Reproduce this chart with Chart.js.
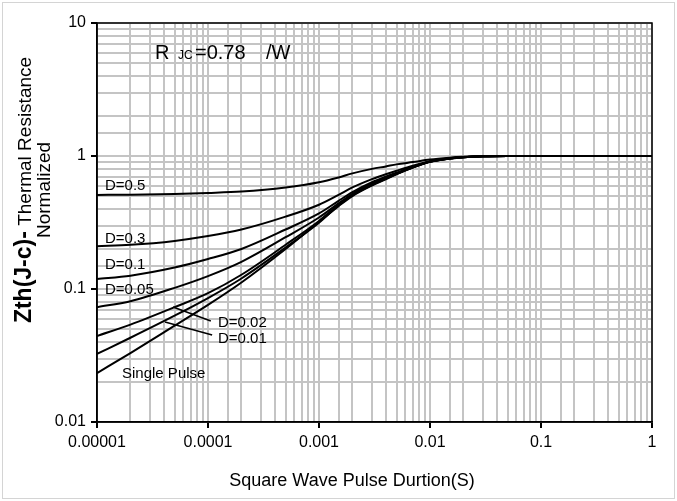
<!DOCTYPE html>
<html>
<head>
<meta charset="utf-8">
<script src="https://cdn.jsdelivr.net/npm/chart.js@4.4.1/dist/chart.umd.min.js"></script>
<style>
  html, body { margin: 0; padding: 0; background: #fff; }
  #wrap { width: 677px; height: 501px; position: relative; }
  canvas { display: block; }
</style>
</head>
<body>
<div id="wrap"><canvas id="c" width="677" height="501"></canvas></div>
<script>
// Pulse durations (s)
const pulseTimes = [1e-5, 2e-5, 5e-5, 1e-4, 2e-4, 5e-4, 1e-3, 1.5e-3, 2e-3, 3e-3, 4e-3, 5e-3, 7e-3, 1e-2, 1.5e-2, 2e-2, 3e-2, 5e-2, 1e-1, 1];

// Normalized thermal impedance per duty cycle
const zD05   = [0.51, 0.512, 0.518, 0.527, 0.54, 0.58, 0.635, 0.69, 0.74, 0.80, 0.835, 0.865, 0.90, 0.94, 0.97, 0.985, 0.995, 1.0, 1.0, 1.0];
const zD03   = [0.21, 0.215, 0.23, 0.25, 0.28, 0.35, 0.43, 0.51, 0.58, 0.67, 0.73, 0.775, 0.845, 0.915, 0.963, 0.982, 0.995, 1.0, 1.0, 1.0];
const zD01   = [0.119, 0.126, 0.145, 0.168, 0.20, 0.28, 0.37, 0.46, 0.535, 0.635, 0.70, 0.75, 0.83, 0.91, 0.96, 0.98, 0.995, 1.0, 1.0, 1.0];
const zD005  = [0.073, 0.081, 0.102, 0.125, 0.16, 0.245, 0.345, 0.44, 0.52, 0.62, 0.69, 0.74, 0.825, 0.907, 0.958, 0.98, 0.995, 1.0, 1.0, 1.0];
const zD002  = [0.0443, 0.054, 0.073, 0.093, 0.128, 0.215, 0.325, 0.43, 0.51, 0.61, 0.68, 0.735, 0.822, 0.905, 0.957, 0.98, 0.995, 1.0, 1.0, 1.0];
const zD001  = [0.0325, 0.043, 0.063, 0.0855, 0.12, 0.205, 0.315, 0.425, 0.505, 0.605, 0.675, 0.732, 0.82, 0.904, 0.956, 0.98, 0.995, 1.0, 1.0, 1.0];
const zSingle= [0.0233, 0.033, 0.053, 0.076, 0.112, 0.20, 0.32, 0.42, 0.50, 0.60, 0.668, 0.73, 0.818, 0.903, 0.955, 0.98, 0.995, 1.0, 1.0, 1.0];

// Axis tick labels (major decades)
const xMajorTicks = [0.00001, 0.0001, 0.001, 0.01, 0.1, 1];
const xTickLabels = ["0.00001", "0.0001", "0.001", "0.01", "0.1", "1"];
const yMajorTicks = [0.01, 0.1, 1, 10];
const yTickLabels = ["0.01", "0.1", "1", "10"];

// Curve labels (text, anchor x, anchor y in data units)
const curveLabels = [
  ["D=0.5", 1.18e-5, 0.595],
  ["D=0.3", 1.18e-5, 0.238],
  ["D=0.1", 1.18e-5, 0.1515],
  ["D=0.05", 1.18e-5, 0.0989],
  ["D=0.02", 1.23e-4, 0.0555],
  ["D=0.01", 1.23e-4, 0.042],
  ["Single Pulse", 1.68e-5, 0.023]
];
// Leader lines (x1, y1, x2, y2 in data units)
const leaders = [
  [1.06e-4, 0.0574, 4.84e-5, 0.0733],
  [1.09e-4, 0.0451, 4.1e-5, 0.0565]
];

const seriesList = [zD05, zD03, zD01, zD005, zD002, zD001, zSingle];
const seriesNames = ["D=0.5", "D=0.3", "D=0.1", "D=0.05", "D=0.02", "D=0.01", "Single Pulse"];

const datasets = seriesList.map((arr, i) => ({
  label: seriesNames[i],
  data: pulseTimes.map((t, j) => ({ x: t, y: arr[j] })),
  borderColor: '#000',
  borderWidth: 2,
  pointRadius: 0,
  fill: false,
  cubicInterpolationMode: 'monotone'
}));

function isMajor(v, list) {
  return list.some(m => Math.abs(v / m - 1) < 1e-6);
}
function labelFor(v, list, labels) {
  for (let i = 0; i < list.length; i++) if (Math.abs(v / list[i] - 1) < 1e-6) return labels[i];
  return '';
}

const FONT = '"Liberation Sans", Arial, sans-serif';

const overlay = {
  id: 'overlay',
  beforeDraw(chart) {
    const ctx = chart.ctx;
    ctx.save();
    ctx.fillStyle = '#fff';
    ctx.fillRect(0, 0, chart.width, chart.height);
    ctx.strokeStyle = '#d4d4d4';
    ctx.lineWidth = 1;
    ctx.strokeRect(2.5, 2.5, chart.width - 5, chart.height - 5);
    ctx.restore();
  },
  afterDraw(chart) {
    const ctx = chart.ctx;
    const a = chart.chartArea;
    const xs = chart.scales.x, ys = chart.scales.y;
    ctx.save();
    // frame
    ctx.strokeStyle = '#000';
    ctx.lineWidth = 1.5;
    ctx.strokeRect(a.left, a.top, a.right - a.left, a.bottom - a.top);

    // curve labels
    ctx.fillStyle = '#000';
    ctx.font = '15px ' + FONT;
    ctx.textAlign = 'left';
    ctx.textBaseline = 'middle';
    curveLabels.forEach(([t, x, y]) => {
      ctx.fillText(t, xs.getPixelForValue(x), ys.getPixelForValue(y));
    });
    ctx.lineWidth = 1.5;
    leaders.forEach(([x1, y1, x2, y2]) => {
      ctx.beginPath();
      ctx.moveTo(xs.getPixelForValue(x1), ys.getPixelForValue(y1));
      ctx.lineTo(xs.getPixelForValue(x2), ys.getPixelForValue(y2));
      ctx.stroke();
    });

    // R JC annotation
    const px = xs.getPixelForValue(3.33e-5), py = ys.getPixelForValue(5.4);
    ctx.textBaseline = 'alphabetic';
    ctx.font = '20px ' + FONT;
    ctx.fillText('R', px, py);
    ctx.font = '12px ' + FONT;
    ctx.fillText('JC', px + 23, py);
    ctx.font = '20px ' + FONT;
    ctx.fillText('=0.78', px + 40, py);
    ctx.fillText('/W', px + 111, py);

    // x title
    ctx.font = '18px ' + FONT;
    ctx.textAlign = 'center';
    ctx.textBaseline = 'middle';
    ctx.fillText('Square Wave Pulse Durtion(S)', 352, 481);

    // y title (rotated)
    ctx.save();
    ctx.translate(31, 190);
    ctx.rotate(-Math.PI / 2);
    ctx.textBaseline = 'alphabetic';
    const p1 = 'Zth(J-c)-';
    const p2 = ' Thermal Resistance';
    ctx.font = 'bold 23px ' + FONT;
    const w1 = ctx.measureText(p1).width;
    ctx.font = '19px ' + FONT;
    const w2 = ctx.measureText(p2).width;
    const start = -(w1 + w2) / 2;
    ctx.textAlign = 'left';
    ctx.font = 'bold 23px ' + FONT;
    ctx.fillText(p1, start, 0);
    ctx.font = '19px ' + FONT;
    ctx.fillText(p2, start + w1, 0);
    ctx.textAlign = 'center';
    ctx.fillText('Normalized', 0, 19);
    ctx.restore();
    ctx.restore();
  }
};

new Chart(document.getElementById('c'), {
  type: 'line',
  data: { datasets },
  options: {
    responsive: false,
    animation: false,
    devicePixelRatio: 1,
    layout: { padding: { left: 0, right: 25, top: 23, bottom: 0 } },
    plugins: { legend: { display: false }, tooltip: { enabled: false } },
    scales: {
      x: {
        type: 'logarithmic',
        min: 1e-5, max: 1,
        afterFit(s) { s.height = 79; },
        border: { display: true, color: '#000', width: 1.5 },
        grid: {
          color: '#c4c4c4', lineWidth: 2, drawTicks: true, tickLength: 6,
          tickColor: c => (c.tick && isMajor(c.tick.value, xMajorTicks)) ? '#000' : 'rgba(0,0,0,0)'
        },
        ticks: {
          autoSkip: false, maxRotation: 0, padding: 5,
          color: '#000', font: { family: FONT, size: 16 },
          callback: v => labelFor(v, xMajorTicks, xTickLabels)
        }
      },
      y: {
        type: 'logarithmic',
        min: 0.01, max: 10,
        afterFit(s) { s.width = 97; },
        border: { display: true, color: '#000', width: 1.5 },
        grid: {
          color: '#c4c4c4', lineWidth: 2, drawTicks: true, tickLength: 6,
          tickColor: c => (c.tick && isMajor(c.tick.value, yMajorTicks)) ? '#000' : 'rgba(0,0,0,0)'
        },
        ticks: {
          autoSkip: false, padding: 5,
          color: '#000', font: { family: FONT, size: 16 },
          callback: v => labelFor(v, yMajorTicks, yTickLabels)
        }
      }
    }
  },
  plugins: [overlay]
});
</script>
</body>
</html>
